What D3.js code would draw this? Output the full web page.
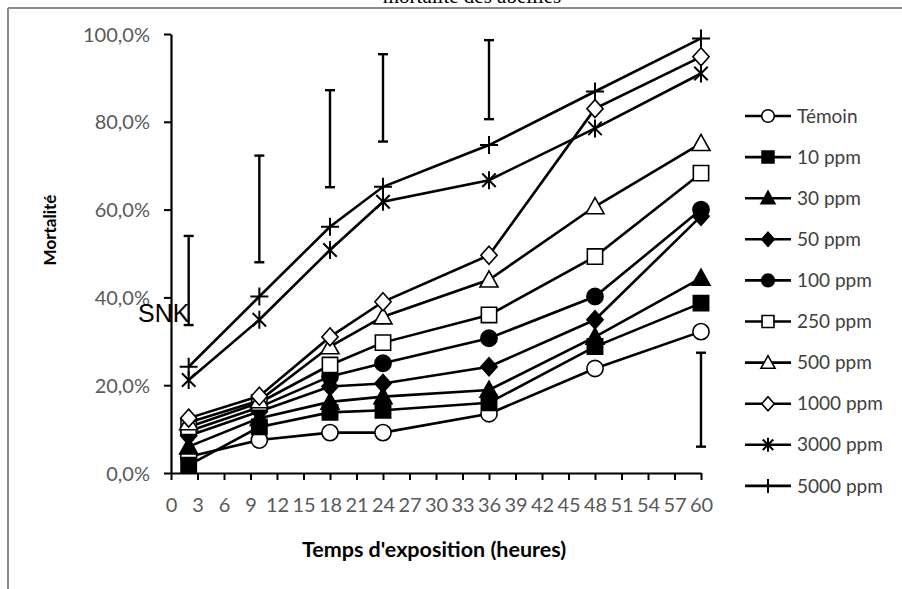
<!DOCTYPE html>
<html>
<head>
<meta charset="utf-8">
<script src="https://cdn.jsdelivr.net/npm/d3@7"></script>
<style>
	body { margin: 0; background: #fff; }
	#chart-area { width: 902px; height: 589px; }
	.tick-label { font-family: Lato, "Open Sans", sans-serif; fill: #595959; }
	.axis-title { font-family: Lato, "Open Sans", sans-serif; font-weight: bold; fill: #000; }
	.legend-label { font-family: Lato, "Open Sans", sans-serif; fill: #404040; }
</style>
</head>
<body>
<div id="chart-area"></div>
<script>
// exposure times (hours)
const hours = [2, 10, 18, 24, 36, 48, 60];

// mortality per concentration (fraction)
const temoin  = [0.037, 0.075, 0.092, 0.092, 0.135, 0.238, 0.322];
const ppm10   = [0.018, 0.105, 0.138, 0.143, 0.160, 0.288, 0.387];
const ppm30   = [0.060, 0.125, 0.162, 0.174, 0.189, 0.310, 0.444];
const ppm50   = [0.085, 0.140, 0.197, 0.204, 0.242, 0.349, 0.585];
const ppm100  = [0.095, 0.150, 0.220, 0.250, 0.307, 0.402, 0.600];
const ppm250  = [0.105, 0.160, 0.246, 0.297, 0.360, 0.493, 0.683];
const ppm500  = [0.115, 0.165, 0.288, 0.356, 0.440, 0.607, 0.751];
const ppm1000 = [0.125, 0.175, 0.310, 0.390, 0.496, 0.830, 0.948];
const ppm3000 = [0.212, 0.349, 0.508, 0.618, 0.667, 0.785, 0.910];
const ppm5000 = [0.242, 0.402, 0.561, 0.652, 0.747, 0.869, 0.990];

const seriesNames = ["Témoin", "10 ppm", "30 ppm", "50 ppm", "100 ppm", "250 ppm", "500 ppm", "1000 ppm", "3000 ppm", "5000 ppm"];
const seriesValues = [temoin, ppm10, ppm30, ppm50, ppm100, ppm250, ppm500, ppm1000, ppm3000, ppm5000];
const markerTypes = ["circleOpen", "square", "triangle", "diamond", "circle", "squareOpen", "triangleOpen", "diamondOpen", "star", "plus"];

// SNK intervals
const snkHours = [2, 10, 18, 24, 36, 60];
const snkLow   = [0.337, 0.480, 0.651, 0.755, 0.806, 0.060];
const snkHigh  = [0.540, 0.723, 0.872, 0.954, 0.986, 0.274];

// axis ticks
const xTicks = [0, 3, 6, 9, 12, 15, 18, 21, 24, 27, 30, 33, 36, 39, 42, 45, 48, 51, 54, 57, 60];
const yTicks = [0, 0.2, 0.4, 0.6, 0.8, 1.0];

const fmtPct = v => d3.format(".1f")(v * 100).replace(".", ",") + "%";

// marker path for a given type, h = half size
function markerPath(type, h) {
	let p = d3.path();
	let t = type.replace("Open", "");
	if (t == "circle") {
		p.arc(0, 0, h * 0.9, 0, 2 * Math.PI);
	} else if (t == "square") {
		let s = h * 0.85;
		p.rect(-s, -s, 2 * s, 2 * s);
	} else if (t == "triangle") {
		p.moveTo(0, -h); p.lineTo(h, h * 0.8); p.lineTo(-h, h * 0.8); p.closePath();
	} else if (t == "diamond") {
		p.moveTo(0, -h); p.lineTo(h * 0.9, 0); p.lineTo(0, h); p.lineTo(-h * 0.9, 0); p.closePath();
	} else if (t == "star") {
		let d = h * 0.75;
		p.moveTo(-d, -d); p.lineTo(d, d);
		p.moveTo(d, -d); p.lineTo(-d, d);
		p.moveTo(0, -h); p.lineTo(0, h);
	} else if (t == "plus") {
		p.moveTo(-h, 0); p.lineTo(h, 0);
		p.moveTo(0, -h); p.lineTo(0, h);
	}
	return p.toString();
}

function styleMarker(sel, type) {
	let open = type.indexOf("Open") > -1;
	let lineOnly = (type == "star" || type == "plus");
	sel.attr("fill", lineOnly ? "none" : (open ? "#fff" : "#000"))
		.attr("stroke", "#000")
		.attr("stroke-width", lineOnly ? 2 : 1.6);
}

class MortalityChart {
	constructor(parentElement) {
		this.parentElement = parentElement;
		this.initVis();
	}

	initVis() {
		let vis = this;

		vis.svg = d3.select("#" + vis.parentElement).append("svg")
			.attr("width", 902)
			.attr("height", 589);

		// outer frame (top and left edges visible)
		vis.svg.append("line").attr("x1", 8).attr("x2", 902).attr("y1", 8).attr("y2", 8)
			.attr("stroke", "#8c8c8c").attr("stroke-width", 2);
		vis.svg.append("line").attr("x1", 8).attr("x2", 8).attr("y1", 8).attr("y2", 589)
			.attr("stroke", "#8c8c8c").attr("stroke-width", 2);

		// title, clipped at the top of the picture like the source
		vis.svg.append("text")
			.attr("x", 472).attr("y", 3)
			.attr("text-anchor", "middle")
			.style("font-family", "'Liberation Serif', serif")
			.style("font-size", "21px")
			.text("mortalité des abeilles");

		// scales
		vis.x = d3.scaleLinear().domain([0, 60]).range([171, 701]);
		vis.y = d3.scaleLinear().domain([0, 1]).range([473, 34]);

		// axes
		vis.xAxis = d3.axisBottom(vis.x).tickValues(xTicks).tickSize(7).tickSizeOuter(0).tickFormat(d3.format("d"));
		vis.yAxis = d3.axisLeft(vis.y).tickValues(yTicks).tickSize(7).tickSizeOuter(0).tickFormat(fmtPct);

		vis.gx = vis.svg.append("g").attr("transform", "translate(0," + vis.y(0) + ")").call(vis.xAxis);
		vis.gy = vis.svg.append("g").attr("transform", "translate(" + vis.x(0) + ",0)").call(vis.yAxis);

		[vis.gx, vis.gy].forEach(g => {
			g.select(".domain").attr("stroke", "#000").attr("stroke-width", 2.2);
			g.selectAll(".tick line").attr("stroke", "#000").attr("stroke-width", 2);
			g.selectAll(".tick text").attr("class", "tick-label").style("font-size", "20px");
		});
		vis.gx.selectAll(".tick text").attr("y", 32).attr("dy", "0.35em");
		vis.gy.selectAll(".tick text").attr("x", -21).attr("dy", "0.35em");

		// axis titles
		vis.svg.append("text").attr("class", "axis-title")
			.attr("x", 434).attr("y", 557)
			.attr("text-anchor", "middle")
			.style("font-size", "21.5px")
			.text("Temps d'exposition (heures)");
		vis.svg.append("text").attr("class", "axis-title")
			.attr("transform", "translate(56,230) rotate(-90)")
			.attr("text-anchor", "middle")
			.style("font-size", "17px")
			.text("Mortalité");

		vis.wrangleData();
	}

	wrangleData() {
		let vis = this;
		vis.displayData = seriesNames.map((name, i) => ({
			name: name,
			marker: markerTypes[i],
			values: hours.map((h, j) => ({hour: h, value: seriesValues[i][j]}))
		}));
		vis.snkData = snkHours.map((h, i) => ({hour: h, low: snkLow[i], high: snkHigh[i]}));
		vis.updateVis();
	}

	updateVis() {
		let vis = this;

		vis.linepath = d3.line()
			.x(d => vis.x(d.hour))
			.y(d => vis.y(d.value));

		// SNK error bars
		let bars = vis.svg.append("g").selectAll("g").data(vis.snkData).enter().append("g")
			.attr("stroke", "#000").attr("stroke-width", 2.4);
		bars.append("line")
			.attr("x1", d => vis.x(d.hour)).attr("x2", d => vis.x(d.hour))
			.attr("y1", d => vis.y(d.low)).attr("y2", d => vis.y(d.high));
		bars.append("line")
			.attr("x1", d => vis.x(d.hour) - 5).attr("x2", d => vis.x(d.hour) + 5)
			.attr("y1", d => vis.y(d.low)).attr("y2", d => vis.y(d.low));
		bars.append("line")
			.attr("x1", d => vis.x(d.hour) - 5).attr("x2", d => vis.x(d.hour) + 5)
			.attr("y1", d => vis.y(d.high)).attr("y2", d => vis.y(d.high));

		vis.svg.append("text")
			.attr("x", 138).attr("y", 322)
			.style("font-family", "'Liberation Sans', Arial, sans-serif")
			.style("font-size", "25px")
			.text("SNK");

		// series: line then markers, in order
		vis.displayData.forEach(function (s) {
			let g = vis.svg.append("g");
			g.append("path")
				.datum(s.values)
				.attr("fill", "none")
				.attr("stroke", "#000")
				.attr("stroke-width", 2.6)
				.attr("d", vis.linepath);
			g.selectAll("path.marker").data(s.values).enter().append("path")
				.attr("class", "marker")
				.attr("transform", d => "translate(" + vis.x(d.hour) + "," + vis.y(d.value) + ")")
				.attr("d", markerPath(s.marker, 9))
				.call(styleMarker, s.marker);
		});

		// legend
		let legend = vis.svg.append("g").selectAll("g").data(vis.displayData).enter().append("g")
			.attr("transform", (d, i) => "translate(745," + (116 + i * 41.1) + ")");
		legend.append("line")
			.attr("x1", 0).attr("x2", 46)
			.attr("stroke", "#000").attr("stroke-width", 2.6);
		legend.each(function (d) {
			d3.select(this).append("path")
				.attr("transform", "translate(23,0)")
				.attr("d", markerPath(d.marker, 7))
				.call(styleMarker, d.marker);
		});
		legend.append("text")
			.attr("class", "legend-label")
			.attr("x", 52).attr("dy", "0.35em")
			.style("font-size", "19px")
			.text(d => d.name);
	}
}

new MortalityChart("chart-area");
</script>
</body>
</html>
